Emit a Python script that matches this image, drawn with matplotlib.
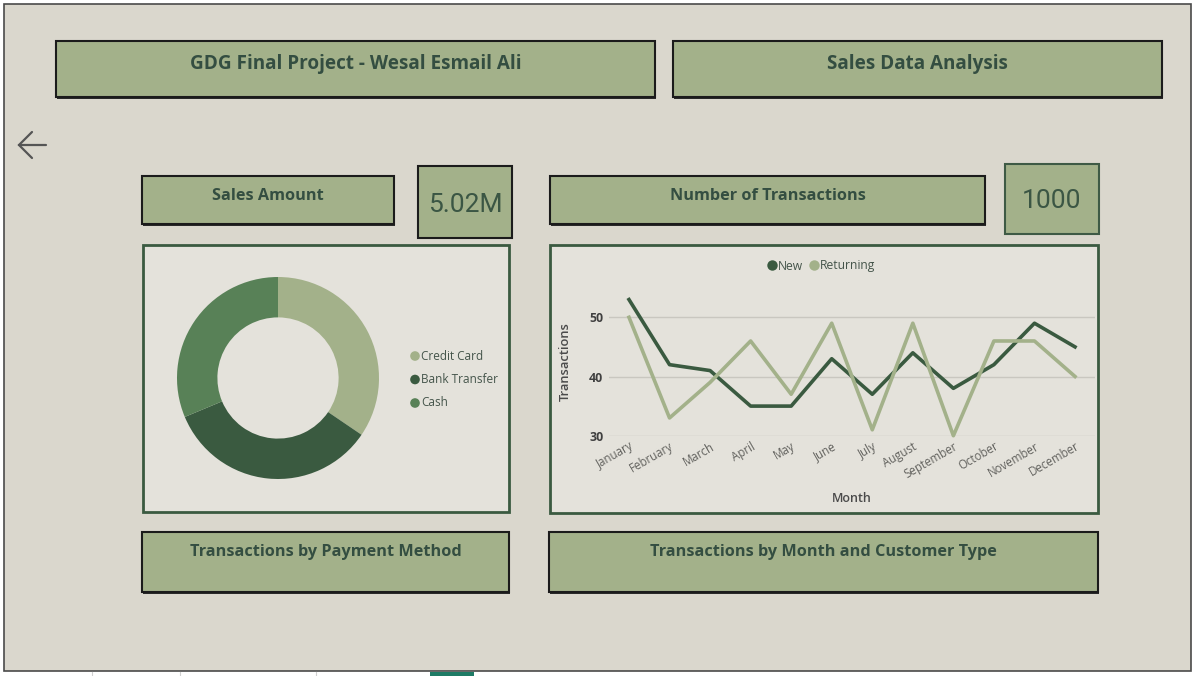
import matplotlib
matplotlib.use("Agg")
import matplotlib.pyplot as plt
from matplotlib.patches import Rectangle
from matplotlib.lines import Line2D

# ---------------- data ----------------
months = ["January", "February", "March", "April", "May", "June", "July",
          "August", "September", "October", "November", "December"]
new_tx = [53, 42, 41, 35, 35, 43, 37, 44, 38, 42, 49, 45]
returning_tx = [50, 33, 39, 46, 37, 49, 31, 49, 30, 46, 46, 40]
series_names = ["New", "Returning"]

payment_methods = ["Credit Card", "Bank Transfer", "Cash"]
payment_counts = [345, 342, 313]

kpi_sales = "5.02M"
kpi_transactions = "1000"

title_left = "GDG Final Project - Wesal Esmail Ali"
title_right = "Sales Data Analysis"
label_sales = "Sales Amount"
label_tx = "Number of Transactions"
label_donut = "Transactions by Payment Method"
label_line = "Transactions by Month and Customer Type"

# ---------------- styles ----------------
BG = "#dad7cd"
PANEL = "#e4e2db"
BOX = "#a3b18a"
DARK = "#3a5a40"
MID = "#588157"
TXT = "#344e41"
W, H = 1200, 676
FONT = "Open Sans"

fig = plt.figure(figsize=(W / 100, H / 100), dpi=100)
fig.patch.set_facecolor("white")

base = fig.add_axes([0, 0, 1, 1])
base.set_xlim(0, W)
base.set_ylim(H, 0)
base.axis("off")


def rect(x0, y0, x1, y1, fc, ec, lw=1.5, z=1):
    base.add_patch(Rectangle((x0, y0), x1 - x0, y1 - y0, facecolor=fc,
                             edgecolor=ec, linewidth=lw, zorder=z))


# main canvas
rect(4, 4, 1191, 671, BG, "#4a4a4a", 1.2, 0)
# bottom tab strip
for xd in [92, 180, 316]:
    base.plot([xd, xd], [672, 676], color="#d0d0d0", lw=0.8)
base.add_patch(Rectangle((430, 672), 44, 5, facecolor="#1e7b65", edgecolor="none"))

# back arrow
base.plot([19, 46], [145, 145], color="#555555", lw=1.6, solid_capstyle="round")
base.plot([32, 19, 32], [132, 145, 158], color="#555555", lw=1.6,
          solid_capstyle="round", solid_joinstyle="miter")


def header_box(x0, y0, x1, y1, text, ty, size=11.7):
    # slight shadow
    base.add_patch(Rectangle((x0 + 1, y0 + 1.5), x1 - x0, y1 - y0,
                             facecolor="#2a2a2a", edgecolor="none", zorder=1))
    rect(x0, y0, x1, y1, BOX, "#1b1b1b", 1.5, 2)
    base.text((x0 + x1) / 2, ty, text, ha="center", va="center",
              fontsize=size, fontweight="bold", color=TXT, family=FONT, zorder=3)


header_box(56, 41, 655, 97, title_left, 63.5, 13.6)
header_box(673, 41, 1162, 97, title_right, 63.5, 13.6)
header_box(142, 176, 394, 224, label_sales, 196.5)
header_box(550, 176, 985, 224, label_tx, 196.5)
header_box(142, 532, 509, 592, label_donut, 552.5)
header_box(549, 532, 1098, 592, label_line, 552.5)

# KPI boxes
rect(418, 166, 512, 238, BOX, "#1b1b1b", 1.5, 2)
base.text(465, 205, kpi_sales, ha="center", va="center", fontsize=19,
          color="#3b5644", family="Roboto", zorder=3)
rect(1005, 164, 1099, 234, BOX, "#3e5a45", 1.5, 2)
base.text(1052, 201, kpi_transactions, ha="center", va="center", fontsize=19,
          color="#3b5644", family="Roboto", zorder=3)

# chart panels
rect(143, 245, 509, 512, PANEL, DARK, 2.0, 2)
rect(550, 245, 1098, 513, PANEL, DARK, 2.0, 2)


def fig_rect(x0, y0, x1, y1):
    return [x0 / W, 1 - y1 / H, (x1 - x0) / W, (y1 - y0) / H]


# ---------------- donut ----------------
cx, cy, r = 278, 378, 101
dax = fig.add_axes(fig_rect(cx - r, cy - r, cx + r, cy + r))
dax.set_zorder(5)
dax.pie(payment_counts, colors=[BOX, DARK, MID], startangle=90, counterclock=False,
        radius=1, wedgeprops=dict(width=0.4, edgecolor="none"))
dax.set_xlim(-1, 1)
dax.set_ylim(-1, 1)
dax.set_aspect("equal")
dax.axis("off")

for i, (name, col) in enumerate(zip(payment_methods, [BOX, DARK, MID])):
    yy = 356 + i * 23.5
    base.scatter([415], [yy], s=48, color=col, zorder=4, edgecolors="none")
    base.text(421, yy, name, ha="left", va="center", fontsize=8.5,
              color="#44544a", family=FONT, zorder=4)

# ---------------- line chart ----------------
lax = fig.add_axes(fig_rect(608.7, 287.7, 1095.3, 435.7))
lax.set_zorder(5)
lax.patch.set_alpha(0)
xs = list(range(len(months)))
l1, = lax.plot(xs, new_tx, color=DARK, lw=2.6, clip_on=False, zorder=3)
l2, = lax.plot(xs, returning_tx, color=BOX, lw=2.6, clip_on=False, zorder=4)
lax.set_xlim(-0.5, 11.5)
lax.set_ylim(30, 55)
lax.set_yticks([30, 40, 50])
lax.grid(axis="y", color="#c9c7c0", lw=1)
lax.set_axisbelow(True)
for s in lax.spines.values():
    s.set_visible(False)
lax.tick_params(axis="both", length=0)
lax.tick_params(axis="y", pad=4)
lax.set_xticks(xs)
lax.set_xticklabels(months, rotation=30, ha="right", rotation_mode="anchor",
                    fontsize=8.3, color="#62625e", family=FONT)
lax.tick_params(axis="x", pad=3)
for t in lax.get_yticklabels():
    t.set_fontweight("bold")
    t.set_fontsize(8.8)
    t.set_color("#404040")
    t.set_family(FONT)

fig.text(565 / W, 1 - 362 / H, "Transactions", rotation=90, ha="center",
         va="center", fontsize=9.3, color="#4a4a4a", family=FONT,
         fontweight="semibold", zorder=6)
fig.text(852 / W, 1 - 498 / H, "Month", ha="center", va="center",
         fontsize=9.0, color="#4a4a4a", family=FONT, fontweight="semibold",
         zorder=6)

handles = [Line2D([], [], marker="o", ls="none", markersize=7.5, color=DARK,
                  markeredgewidth=0),
           Line2D([], [], marker="o", ls="none", markersize=7.5, color=BOX,
                  markeredgewidth=0)]
leg = fig.legend(handles, series_names, loc="center",
                 bbox_to_anchor=(821 / W, 1 - 266 / H), ncol=2, frameon=False,
                 handletextpad=0.05, columnspacing=0.4, handlelength=0.9,
                 prop={"family": FONT, "size": 8.7})
for t in leg.get_texts():
    t.set_color("#44544a")

fig.savefig("out.png", dpi=100, facecolor=fig.get_facecolor())
